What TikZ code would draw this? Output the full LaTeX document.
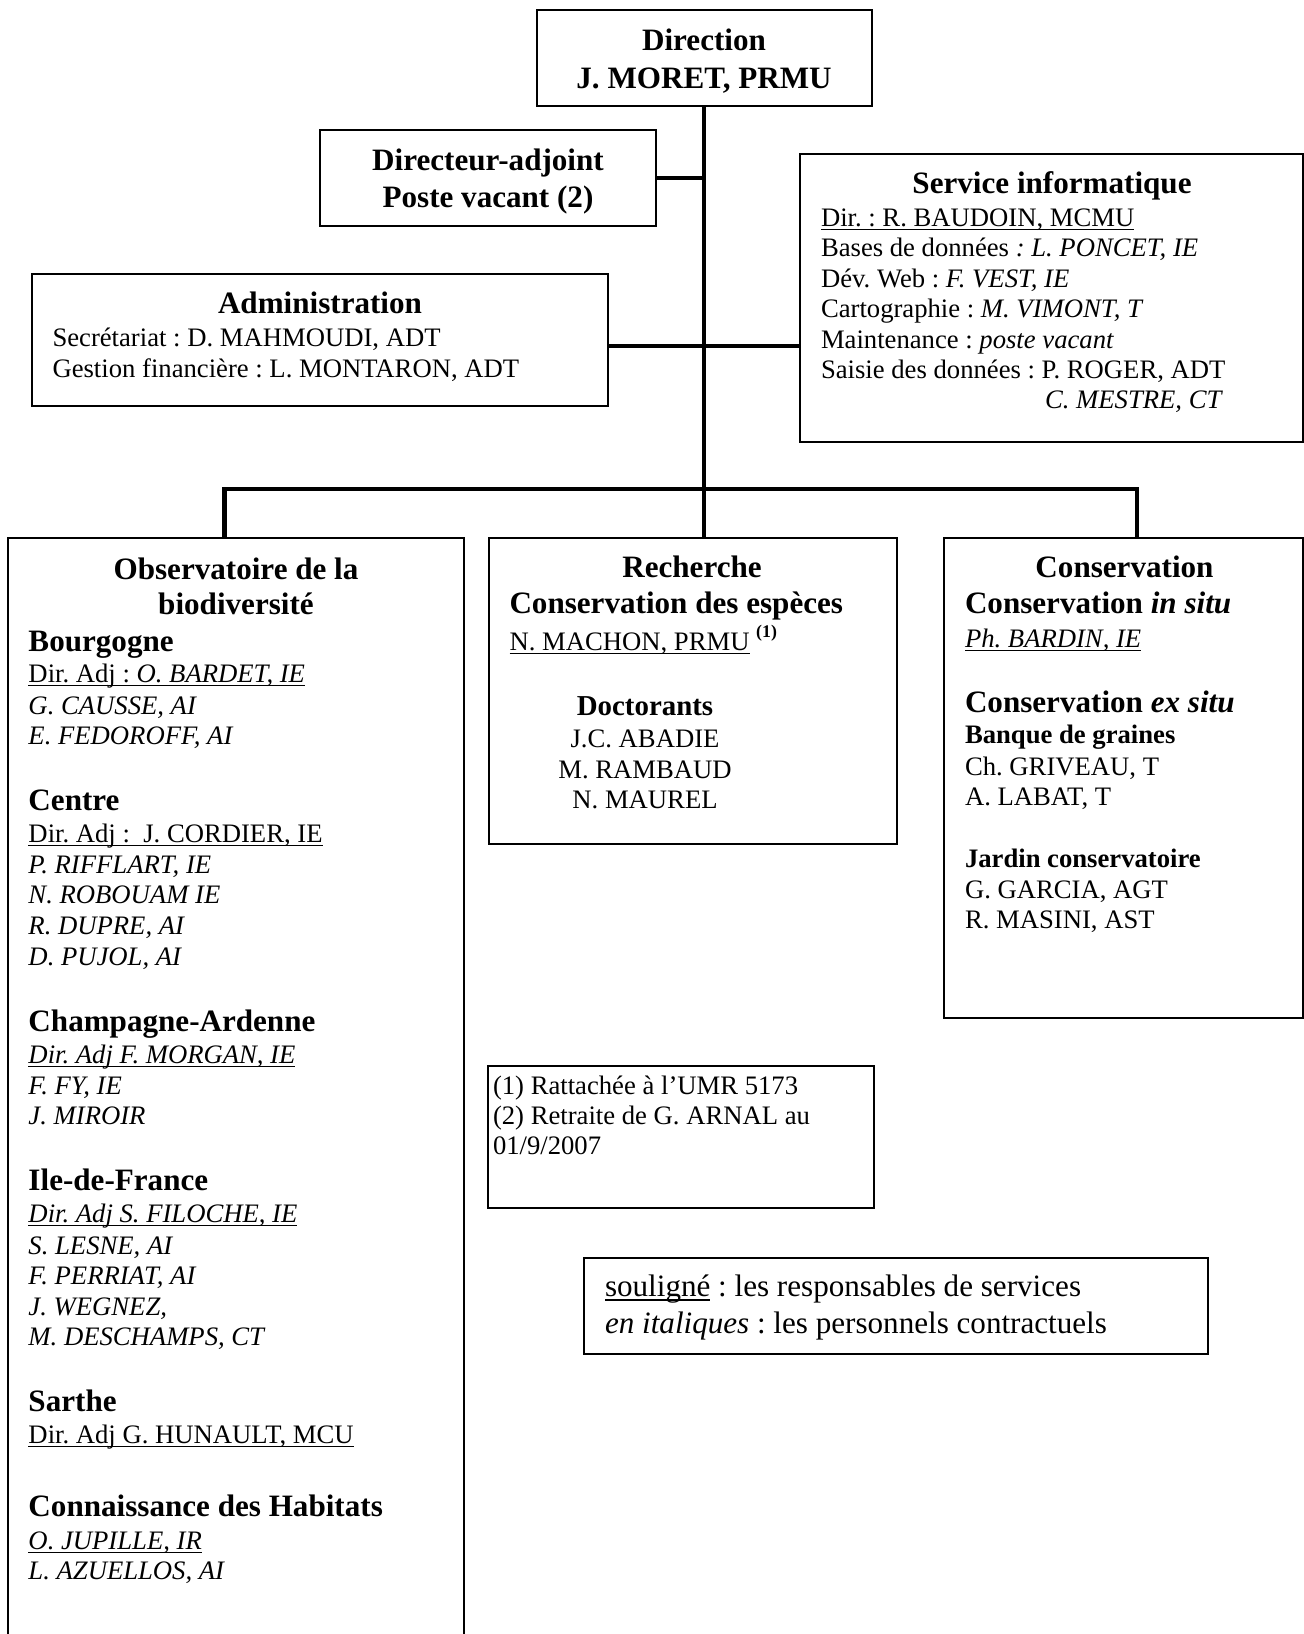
\documentclass[tikz,border=0pt]{standalone}
\usepackage{fontspec}
\setmainfont{Liberation Serif}
\frenchspacing
\tikzset{
  box/.style={draw, line width=0.9pt, rectangle, inner sep=0pt, outer sep=0pt},
  conn/.style={line width=2pt, line join=miter},
  body/.style={inner sep=0pt, outer sep=0pt, font=\fontsize{12pt}{13.8pt}\selectfont},
  head/.style={inner sep=0pt, outer sep=0pt, font=\fontsize{14pt}{16.1pt}\selectfont\bfseries},
  lb/.style={body, anchor=base west},
  cb/.style={body, anchor=base},
  rb/.style={body, anchor=base east},
  lh/.style={head, anchor=base west},
  ch/.style={head, anchor=base},
}
\newcommand\myul[1]{\setbox0=\hbox{#1}\rlap{\rule[-0.16em]{\wd0}{0.065em}}\box0\relax}
\newcommand\BX[5]{\node[box, anchor=north west, minimum width=#4*0.45pt, minimum height=#5*0.45pt] (#1) at (#2,#3) {};}
\newcommand\TX[5]{\node[#1] (#2) at (#3,#4) {#5};}
\begin{document}
\begin{tikzpicture}[x=0.45pt, y=-0.45pt]
\fill[white] (0,0) rectangle (1304,1634);
\useasboundingbox (0,0) rectangle (1304,1634);
% boxes
\BX{dir}{536.5}{9.5}{335}{96.5}
\BX{adj}{320}{129.5}{336}{96.5}
\BX{si}{800}{153.5}{502.5}{288.5}
\BX{adm}{31.5}{273.5}{576.5}{132}
\BX{obs}{7.5}{537.5}{456.5}{1112.5}
\BX{rec}{488.5}{537.5}{408.5}{306.5}
\BX{cons}{944}{537.5}{358.5}{480}
\BX{fn}{488}{1066}{386}{141.5}
\BX{leg}{584}{1258}{624}{96}
% connectors
\coordinate (jA) at (704,346);
\coordinate (bL) at (224.5,489);
\coordinate (bR) at (1137,489);
\draw[conn] (dir.south) -- (dir.south |- rec.north);
\draw[conn] (adj.east) -- (adj.east -| dir.south);
\draw[conn] (adm.east |- jA) -- (si.west |- jA);
\draw[conn] (bL |- obs.north) -- (bL) -- (bR) -- (bR |- cons.north);
% Direction
\TX{ch}{t1}{704}{50}{Direction}
\TX{ch}{t2}{704}{88}{J. MORET, PRMU}
% Directeur-adjoint
\TX{ch}{t3}{488}{170}{Directeur-adjoint}
\TX{ch}{t4}{488}{207.5}{Poste vacant (2)}
% Service informatique
\TX{ch}{s0}{1052}{193.5}{Service informatique}
\TX{lb}{s1}{821}{226}{\myul{Dir. : R. BAUDOIN, MCMU}}
\TX{lb}{s2}{821}{256.5}{Bases de données \textit{: L. PONCET, IE}}
\TX{lb}{s3}{821}{287}{Dév. Web : \textit{F. VEST, IE}}
\TX{lb}{s4}{821}{317.5}{Cartographie : \textit{M. VIMONT, T}}
\TX{lb}{s5}{821}{348}{Maintenance : \textit{poste vacant}}
\TX{lb}{s6}{821}{378}{Saisie des données : P. ROGER, ADT}
\TX{rb}{s7}{1223}{408.5}{\textit{C. MESTRE, CT}}
% Administration
\TX{ch}{a0}{320}{313.5}{Administration}
\TX{lb}{a1}{52.5}{346.5}{Secrétariat : D. MAHMOUDI, ADT}
\TX{lb}{a2}{52.5}{377}{Gestion financière : L. MONTARON, ADT}
% Observatoire
\TX{ch}{o0}{236}{579}{Observatoire de la}
\TX{ch}{o1}{236}{614}{biodiversité}
\TX{lh}{o2}{28.5}{651}{Bourgogne}
\TX{lb}{o3}{28.5}{682}{\myul{Dir. Adj : \textit{O. BARDET, IE}}}
\TX{lb}{o4}{28.5}{714}{\textit{G. CAUSSE, AI}}
\TX{lb}{o5}{28.5}{744}{\textit{E. FEDOROFF, AI}}
\TX{lh}{o6}{28.5}{810}{Centre}
\TX{lb}{o7}{28.5}{842}{\myul{Dir. Adj :\ \ J. CORDIER, IE}}
\TX{lb}{o8}{28.5}{873}{\textit{P. RIFFLART, IE}}
\TX{lb}{o9}{28.5}{903}{\textit{N. ROBOUAM IE}}
\TX{lb}{o10}{28.5}{934}{\textit{R. DUPRE, AI}}
\TX{lb}{o11}{28.5}{965}{\textit{D. PUJOL, AI}}
\TX{lh}{o12}{28.5}{1031}{Champagne-Ardenne}
\TX{lb}{o13}{28.5}{1063}{\myul{\textit{Dir. Adj F. MORGAN, IE}}}
\TX{lb}{o14}{28.5}{1094}{\textit{F. FY, IE}}
\TX{lb}{o15}{28.5}{1124}{\textit{J. MIROIR}}
\TX{lh}{o16}{28.5}{1190.5}{Ile-de-France}
\TX{lb}{o17}{28.5}{1222}{\myul{\textit{Dir. Adj S. FILOCHE, IE}}}
\TX{lb}{o18}{28.5}{1254}{\textit{S. LESNE, AI}}
\TX{lb}{o19}{28.5}{1284}{\textit{F. PERRIAT, AI}}
\TX{lb}{o20}{28.5}{1315}{\textit{J. WEGNEZ,}}
\TX{lb}{o21}{28.5}{1345}{\textit{M. DESCHAMPS, CT}}
\TX{lh}{o22}{28.5}{1411.5}{Sarthe}
\TX{lb}{o23}{28.5}{1443}{\myul{Dir. Adj G. HUNAULT, MCU}}
\TX{lh}{o24}{28.5}{1516.5}{Connaissance des Habitats}
\TX{lb}{o25}{28.5}{1549}{\myul{\textit{O. JUPILLE, IR}}}
\TX{lb}{o26}{28.5}{1579}{\textit{L. AZUELLOS, AI}}
% Recherche
\TX{ch}{r0}{692}{577}{Recherche}
\TX{lh}{r1}{509.5}{613}{Conservation des espèces}
\TX{lb}{r2}{509.5}{650}{\myul{N. MACHON, PRMU} \raisebox{5.5pt}{\fontsize{8pt}{9pt}\selectfont\bfseries (1)}}
\TX{ch, font=\fontsize{13pt}{15pt}\selectfont\bfseries}{r3}{645}{715}{Doctorants}
\TX{cb}{r4}{645}{747}{J.C. ABADIE}
\TX{cb}{r5}{645}{778}{M. RAMBAUD}
\TX{cb}{r6}{645}{808}{N. MAUREL}
% Conservation
\TX{ch}{c0}{1124.5}{577}{Conservation}
\TX{lh}{c1}{965}{613}{Conservation \textit{in situ}}
\TX{lb}{c2}{965}{647}{\myul{\textit{Ph. BARDIN, IE}}}
\TX{lh}{c3}{965}{712}{Conservation \textit{ex situ}}
\TX{lb}{c4}{965}{743}{\bfseries Banque de graines}
\TX{lb}{c5}{965}{775}{Ch. GRIVEAU, T}
\TX{lb}{c6}{965}{805}{A. LABAT, T}
\TX{lb}{c7}{965}{867}{\bfseries Jardin conservatoire}
\TX{lb}{c8}{965}{898}{G. GARCIA, AGT}
\TX{lb}{c9}{965}{928.5}{R. MASINI, AST}
% Footnotes
\TX{lb}{f1}{493}{1094}{(1) Rattachée à l’UMR 5173}
\TX{lb}{f2}{493}{1124}{(2) Retraite de G. ARNAL au}
\TX{lb}{f3}{493}{1154}{01/9/2007}
% Legend
\TX{lb, font=\fontsize{14pt}{16.1pt}\selectfont}{l1}{605}{1296.5}{\myul{souligné} : les responsables de services}
\TX{lb, font=\fontsize{14pt}{16.1pt}\selectfont}{l2}{605}{1333}{\textit{en italiques} : les personnels contractuels}
\end{tikzpicture}
\end{document}
